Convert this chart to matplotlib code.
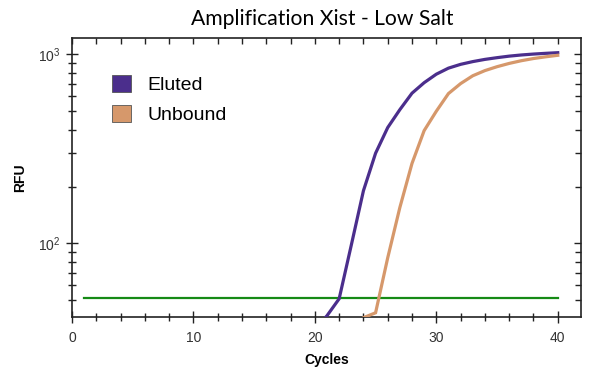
import matplotlib
matplotlib.use("Agg")
import matplotlib.pyplot as plt
from matplotlib.ticker import MultipleLocator, LogLocator, NullFormatter
from matplotlib.patches import Patch

cycles_eluted = [20, 21, 22, 23, 24, 25, 26, 27, 28, 29, 30, 31, 32, 33, 34, 35, 36, 37, 38, 39, 40]
rfu_eluted = [35, 41.5, 51, 98, 190, 300, 410, 510, 623, 708, 785, 845, 885, 915, 940, 960, 978, 992, 1003, 1012, 1020]

cycles_unbound = [23, 24, 25, 26, 27, 28, 29, 30, 31, 32, 33, 34, 35, 36, 37, 38, 39, 40]
rfu_unbound = [36, 40.5, 43, 84, 155, 265, 395, 500, 620, 700, 770, 820, 860, 895, 925, 950, 970, 988]

threshold_cycles = [1, 40]
threshold_value = 51.2

series_names = ["Eluted", "Unbound"]
colors = ["#4b2e8c", "#d6986b"]
green = "#158a15"

fig = plt.figure(figsize=(6, 3.75), dpi=100)
ax = fig.add_axes([0.12, 0.1555, 0.848, 0.7425])

ax.plot(threshold_cycles, [threshold_value] * 2, color=green, lw=1.6, zorder=2)
ax.plot(cycles_eluted, rfu_eluted, color=colors[0], lw=2.3, zorder=3, solid_joinstyle="miter")
ax.plot(cycles_unbound, rfu_unbound, color=colors[1], lw=2.3, zorder=3, solid_joinstyle="miter")

ax.set_yscale("log")
ax.set_xlim(0, 41.9)
ax.set_ylim(41, 1216)

ax.xaxis.set_major_locator(MultipleLocator(10))
ax.xaxis.set_minor_locator(MultipleLocator(2))
ax.yaxis.set_major_locator(LogLocator(base=10))
ax.yaxis.set_minor_locator(LogLocator(base=10, subs=range(2, 10)))
ax.yaxis.set_minor_formatter(NullFormatter())

for s in ax.spines.values():
    s.set_linewidth(1.2)
    s.set_color("#222222")

ax.tick_params(axis="both", which="both", colors="#222222", labelcolor="#333333", labelsize=10)
ax.tick_params(axis="x", which="major", direction="inout", length=8, width=1.0, top=False)
ax.tick_params(axis="x", which="minor", direction="inout", length=6, width=1.0, top=False)
ax.tick_params(axis="y", which="major", direction="inout", length=9, width=1.0, right=False)
ax.tick_params(axis="y", which="minor", direction="inout", length=6, width=1.0, right=False)
ax.tick_params(axis="x", which="both", pad=6)

# inward ticks on top and right
secx = ax.secondary_xaxis("top")
secx.xaxis.set_major_locator(MultipleLocator(10))
secx.xaxis.set_minor_locator(MultipleLocator(2))
secx.tick_params(which="both", direction="in", length=4, width=1.0, colors="#222222", labeltop=False)
secx.spines["top"].set_visible(False)
secy = ax.secondary_yaxis("right")
secy.yaxis.set_major_locator(LogLocator(base=10))
secy.yaxis.set_minor_locator(LogLocator(base=10, subs=range(2, 10)))
secy.yaxis.set_minor_formatter(NullFormatter())
secy.tick_params(which="major", direction="in", length=5, width=1.0, colors="#222222", labelright=False)
secy.tick_params(which="minor", direction="in", length=4, width=1.0, colors="#222222", labelright=False)
secy.spines["right"].set_visible(False)

for lbl in ax.get_xticklabels() + ax.get_yticklabels():
    lbl.set_family("Liberation Sans")

ax.set_xlabel("Cycles", fontsize=10, fontweight="bold", family="Liberation Sans", labelpad=6)
ax.set_ylabel("RFU", fontsize=10, fontweight="bold", family="Liberation Sans", labelpad=8)

fig.suptitle("Amplification Xist - Low Salt", x=0.537, y=0.975, fontsize=15.2, family="Lato")

handles = [Patch(facecolor=c, edgecolor="#555555", linewidth=0.6) for c in colors]
leg = ax.legend(handles, series_names, loc="upper left", bbox_to_anchor=(0.045, 0.93),
                frameon=False, prop={"family": "Liberation Sans", "size": 14},
                handlelength=0.95, handleheight=0.95, handletextpad=0.85, labelspacing=0.55)

fig.savefig("out.png", dpi=100)
